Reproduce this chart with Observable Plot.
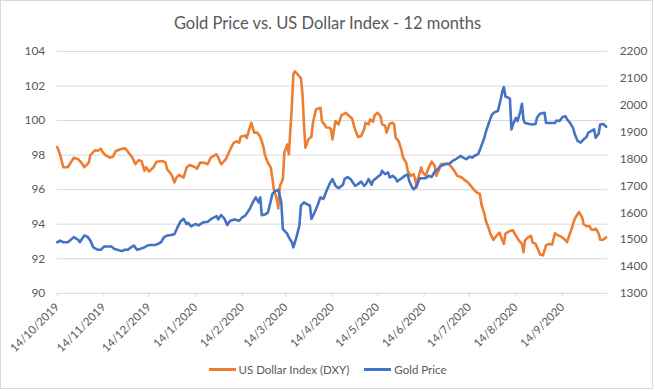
<!DOCTYPE html>
<html>
<head>
<meta charset="utf-8">
<script src="https://cdn.jsdelivr.net/npm/d3@7"></script>
<script src="https://cdn.jsdelivr.net/npm/@observablehq/plot@0.6"></script>
<style>
  html, body { margin: 0; padding: 0; background: #fff; }
  #chart { position: relative; box-sizing: border-box; width: 653px; height: 389px; border: 1px solid #d9d9d9; background: #fff; font-family: Lato, "Open Sans", sans-serif; color: #595959; overflow: hidden; }
  #title { position: absolute; left: 0; top: 12px; width: 653px; text-align: center; font-size: 16.5px; color: #595959; }
  #plot { position: absolute; left: -1px; top: 39px; }
  #legend { position: absolute; left: 0; top: 362px; width: 653px; display: flex; justify-content: center; gap: 15px; font-size: 11.5px; color: #595959; }
  .item { display: flex; align-items: center; }
  .swatch { width: 27px; height: 3px; margin-right: 3px; }
</style>
</head>
<body>
<div id="chart">
  <div id="title">Gold Price vs. US Dollar Index - 12 months</div>
  <div id="plot"></div>
  <div id="legend"></div>
</div>
<script>
const seriesNames = ["US Dollar Index (DXY)", "Gold Price"];
const seriesColors = ["#ED7D31", "#4472C4"];

const dxyDates = ["2019-10-14","2019-10-16","2019-10-18","2019-10-21","2019-10-23","2019-10-25","2019-10-28","2019-10-30","2019-11-01","2019-11-04","2019-11-05","2019-11-08","2019-11-10","2019-11-12","2019-11-13","2019-11-15","2019-11-18","2019-11-20","2019-11-22","2019-11-25","2019-11-28","2019-11-30","2019-12-03","2019-12-05","2019-12-07","2019-12-09","2019-12-11","2019-12-12","2019-12-14","2019-12-17","2019-12-19","2019-12-23","2019-12-25","2019-12-26","2019-12-29","2019-12-31","2020-01-01","2020-01-03","2020-01-06","2020-01-08","2020-01-10","2020-01-13","2020-01-15","2020-01-17","2020-01-20","2020-01-22","2020-01-24","2020-01-26","2020-01-28","2020-01-31","2020-02-03","2020-02-05","2020-02-08","2020-02-10","2020-02-12","2020-02-13","2020-02-16","2020-02-17","2020-02-18","2020-02-20","2020-02-21","2020-02-22","2020-02-24","2020-02-26","2020-02-28","2020-02-29","2020-03-02","2020-03-04","2020-03-05","2020-03-06","2020-03-08","2020-03-09","2020-03-10","2020-03-12","2020-03-13","2020-03-15","2020-03-16","2020-03-18","2020-03-19","2020-03-20","2020-03-22","2020-03-24","2020-03-25","2020-03-26","2020-03-27","2020-03-29","2020-03-31","2020-04-01","2020-04-03","2020-04-06","2020-04-07","2020-04-10","2020-04-12","2020-04-13","2020-04-14","2020-04-16","2020-04-18","2020-04-20","2020-04-23","2020-04-24","2020-04-27","2020-04-29","2020-05-01","2020-05-03","2020-05-05","2020-05-06","2020-05-08","2020-05-09","2020-05-11","2020-05-12","2020-05-14","2020-05-16","2020-05-17","2020-05-19","2020-05-20","2020-05-22","2020-05-24","2020-05-25","2020-05-26","2020-05-28","2020-05-30","2020-05-31","2020-06-02","2020-06-03","2020-06-05","2020-06-07","2020-06-08","2020-06-09","2020-06-10","2020-06-12","2020-06-13","2020-06-15","2020-06-17","2020-06-19","2020-06-21","2020-06-22","2020-06-24","2020-06-25","2020-06-28","2020-06-30","2020-07-02","2020-07-04","2020-07-06","2020-07-09","2020-07-11","2020-07-13","2020-07-15","2020-07-17","2020-07-19","2020-07-21","2020-07-22","2020-07-24","2020-07-25","2020-07-27","2020-07-28","2020-07-30","2020-08-01","2020-08-03","2020-08-04","2020-08-06","2020-08-07","2020-08-10","2020-08-12","2020-08-14","2020-08-16","2020-08-18","2020-08-19","2020-08-20","2020-08-22","2020-08-24","2020-08-25","2020-08-27","2020-08-29","2020-08-30","2020-09-01","2020-09-03","2020-09-05","2020-09-07","2020-09-09","2020-09-10","2020-09-13","2020-09-15","2020-09-17","2020-09-18","2020-09-20","2020-09-22","2020-09-24","2020-09-25","2020-09-27","2020-09-28","2020-09-30","2020-10-02","2020-10-03","2020-10-05","2020-10-06","2020-10-08","2020-10-09","2020-10-11","2020-10-13"];
const dxyValues = [98.47,98.0,97.3,97.3,97.57,97.85,97.76,97.57,97.3,97.57,98.0,98.28,98.25,98.37,98.2,98.0,97.85,97.9,98.24,98.34,98.4,98.2,97.85,97.47,97.7,97.66,97.09,97.3,97.05,97.3,97.62,97.66,97.57,97.19,96.86,96.42,96.67,96.86,96.7,97.28,97.43,97.33,97.22,97.57,97.55,97.47,97.85,97.95,98.05,97.47,97.75,98.14,98.68,98.8,98.72,99.06,99.14,98.99,99.3,99.87,99.58,99.3,99.3,99.06,98.52,98.04,97.57,97.28,96.7,96.03,95.45,94.91,96.2,96.6,98.14,98.62,98.05,100.83,102.66,102.85,102.66,102.46,101.6,99.87,98.43,98.91,99.06,99.87,100.64,100.74,99.97,99.6,99.58,99.5,98.91,99.97,99.78,100.31,100.45,100.35,100.12,99.49,99.05,99.1,99.49,99.87,99.78,100.06,99.93,100.31,100.45,100.25,99.78,99.7,99.3,99.81,99.87,99.78,99.01,98.81,98.24,97.85,97.56,97.09,96.8,96.9,96.6,96.13,96.7,97.28,97.0,96.8,97.28,97.62,97.38,96.8,97.18,97.47,97.5,97.51,97.32,97.09,96.8,96.7,96.55,96.42,96.22,96.0,95.84,95.75,95.17,94.6,94.2,93.73,93.44,93.09,93.33,93.52,93.28,92.86,93.46,93.61,93.65,93.33,93.05,92.86,92.38,93.05,93.24,93.33,92.95,92.86,92.48,92.25,92.2,92.77,92.86,92.82,93.48,93.4,93.28,93.16,92.96,93.24,93.73,94.3,94.59,94.7,94.4,94.0,93.88,93.9,93.7,93.67,93.75,93.46,93.1,93.1,93.24];

const goldDates = ["2019-10-14","2019-10-16","2019-10-18","2019-10-21","2019-10-23","2019-10-25","2019-10-28","2019-10-29","2019-11-01","2019-11-03","2019-11-05","2019-11-07","2019-11-10","2019-11-12","2019-11-14","2019-11-16","2019-11-19","2019-11-21","2019-11-23","2019-11-26","2019-11-28","2019-11-30","2019-12-02","2019-12-04","2019-12-06","2019-12-08","2019-12-11","2019-12-13","2019-12-15","2019-12-18","2019-12-20","2019-12-22","2019-12-24","2019-12-26","2019-12-29","2019-12-31","2020-01-02","2020-01-04","2020-01-06","2020-01-08","2020-01-09","2020-01-11","2020-01-14","2020-01-16","2020-01-19","2020-01-22","2020-01-25","2020-01-28","2020-01-29","2020-01-31","2020-02-02","2020-02-04","2020-02-06","2020-02-09","2020-02-12","2020-02-14","2020-02-16","2020-02-19","2020-02-21","2020-02-23","2020-02-25","2020-02-26","2020-02-27","2020-02-29","2020-03-02","2020-03-04","2020-03-05","2020-03-07","2020-03-09","2020-03-11","2020-03-12","2020-03-15","2020-03-16","2020-03-18","2020-03-19","2020-03-21","2020-03-23","2020-03-24","2020-03-26","2020-03-28","2020-03-30","2020-03-31","2020-04-02","2020-04-04","2020-04-06","2020-04-08","2020-04-10","2020-04-12","2020-04-14","2020-04-16","2020-04-18","2020-04-21","2020-04-22","2020-04-24","2020-04-26","2020-04-28","2020-04-29","2020-05-01","2020-05-03","2020-05-05","2020-05-06","2020-05-08","2020-05-10","2020-05-11","2020-05-14","2020-05-16","2020-05-17","2020-05-19","2020-05-21","2020-05-22","2020-05-24","2020-05-26","2020-05-27","2020-05-30","2020-06-01","2020-06-03","2020-06-04","2020-06-06","2020-06-07","2020-06-09","2020-06-11","2020-06-13","2020-06-15","2020-06-17","2020-06-19","2020-06-21","2020-06-23","2020-06-25","2020-06-28","2020-07-01","2020-07-03","2020-07-05","2020-07-08","2020-07-10","2020-07-12","2020-07-14","2020-07-16","2020-07-17","2020-07-20","2020-07-22","2020-07-24","2020-07-25","2020-07-27","2020-07-29","2020-07-31","2020-08-02","2020-08-04","2020-08-05","2020-08-06","2020-08-07","2020-08-09","2020-08-10","2020-08-11","2020-08-12","2020-08-14","2020-08-15","2020-08-17","2020-08-18","2020-08-19","2020-08-20","2020-08-23","2020-08-25","2020-08-27","2020-08-28","2020-08-30","2020-09-02","2020-09-03","2020-09-06","2020-09-09","2020-09-10","2020-09-12","2020-09-14","2020-09-16","2020-09-17","2020-09-19","2020-09-21","2020-09-22","2020-09-24","2020-09-26","2020-09-28","2020-09-30","2020-10-01","2020-10-03","2020-10-05","2020-10-06","2020-10-08","2020-10-09","2020-10-11","2020-10-13"];
const goldValues = [1490,1496,1490,1490,1499,1509,1499,1490,1515,1511,1496,1471,1462,1462,1474,1474,1474,1465,1462,1457,1462,1462,1471,1478,1462,1465,1471,1478,1480,1480,1484,1490,1509,1515,1517,1521,1546,1568,1577,1558,1562,1549,1558,1553,1564,1566,1579,1587,1575,1591,1579,1554,1570,1575,1570,1583,1589,1614,1638,1657,1638,1657,1591,1593,1600,1644,1669,1681,1685,1638,1540,1521,1508,1490,1471,1508,1552,1626,1638,1632,1626,1577,1600,1626,1657,1651,1681,1706,1725,1700,1691,1704,1725,1733,1725,1709,1700,1706,1716,1700,1704,1725,1704,1719,1733,1741,1756,1743,1750,1731,1737,1728,1716,1728,1737,1743,1719,1694,1687,1700,1728,1728,1728,1737,1733,1753,1762,1774,1780,1783,1793,1799,1811,1805,1799,1808,1805,1810,1819,1848,1879,1901,1934,1965,1975,1978,2025,2054,2067,2032,2028,2024,1910,1928,1953,1941,1978,2005,1947,1934,1930,1928,1930,1953,1968,1972,1934,1934,1934,1943,1941,1956,1959,1947,1934,1915,1894,1867,1861,1873,1882,1897,1904,1910,1879,1894,1928,1930,1920];

const leftTicks = [90, 92, 94, 96, 98, 100, 102, 104];
const rightTicks = [1300, 1400, 1500, 1600, 1700, 1800, 1900, 2000, 2100, 2200];
const xTickLabels = ["14/10/2019","14/11/2019","14/12/2019","14/1/2020","14/2/2020","14/3/2020","14/4/2020","14/5/2020","14/6/2020","14/7/2020","14/8/2020","14/9/2020"];

// map gold (secondary axis) onto primary scale
const leftDom = [90, 104], rightDom = [1300, 2200];
const toLeft = g => leftDom[0] + (g - rightDom[0]) / (rightDom[1] - rightDom[0]) * (leftDom[1] - leftDom[0]);

const parse = s => new Date(s + "T00:00:00Z");
const parseLabel = s => { const [d, m, y] = s.split("/").map(Number); return new Date(Date.UTC(y, m - 1, d)); };
const xTicks = xTickLabels.map(parseLabel);

const dxy = dxyDates.map((d, i) => ({date: parse(d), value: dxyValues[i]}));
const gold = goldDates.map((d, i) => ({date: parse(d), value: toLeft(goldValues[i])}));

const chart = Plot.plot({
  width: 655,
  height: 314,
  marginTop: 11,
  marginLeft: 57,
  marginRight: 45,
  marginBottom: 60,
  style: {fontFamily: "Lato, 'Open Sans', sans-serif", fontSize: "12px", color: "#595959", background: "transparent", overflow: "visible"},
  x: {type: "utc", domain: [parse("2019-10-14"), parse("2020-10-14")]},
  y: {domain: leftDom},
  marks: [
    Plot.gridY(leftTicks, {stroke: "#d9d9d9", strokeOpacity: 1, strokeWidth: 1}),
    Plot.axisY(leftTicks, {anchor: "left", tickSize: 0, tickPadding: 12, fontSize: 12, label: null}),
    Plot.axisY(rightTicks.map(toLeft), {anchor: "right", tickSize: 0, tickPadding: 12, fontSize: 12, label: null,
      tickFormat: (d, i) => String(rightTicks[i])}),
    Plot.axisX(xTicks, {anchor: "bottom", tickSize: 4, tickPadding: 8, tickRotate: -45, fontSize: 11.5,
      stroke: "#d9d9d9", tickFormat: (d, i) => xTickLabels[i], label: null}),
    Plot.lineY(dxy, {x: "date", y: "value", stroke: seriesColors[0], strokeWidth: 2.6}),
    Plot.lineY(gold, {x: "date", y: "value", stroke: seriesColors[1], strokeWidth: 2.6})
  ]
});
document.getElementById("plot").appendChild(chart);

const legend = document.getElementById("legend");
seriesNames.forEach((n, i) => {
  const item = document.createElement("div");
  item.className = "item";
  const sw = document.createElement("div");
  sw.className = "swatch";
  sw.style.background = seriesColors[i];
  const tx = document.createElement("span");
  tx.textContent = n;
  item.appendChild(sw); item.appendChild(tx);
  legend.appendChild(item);
});
</script>
</body>
</html>
